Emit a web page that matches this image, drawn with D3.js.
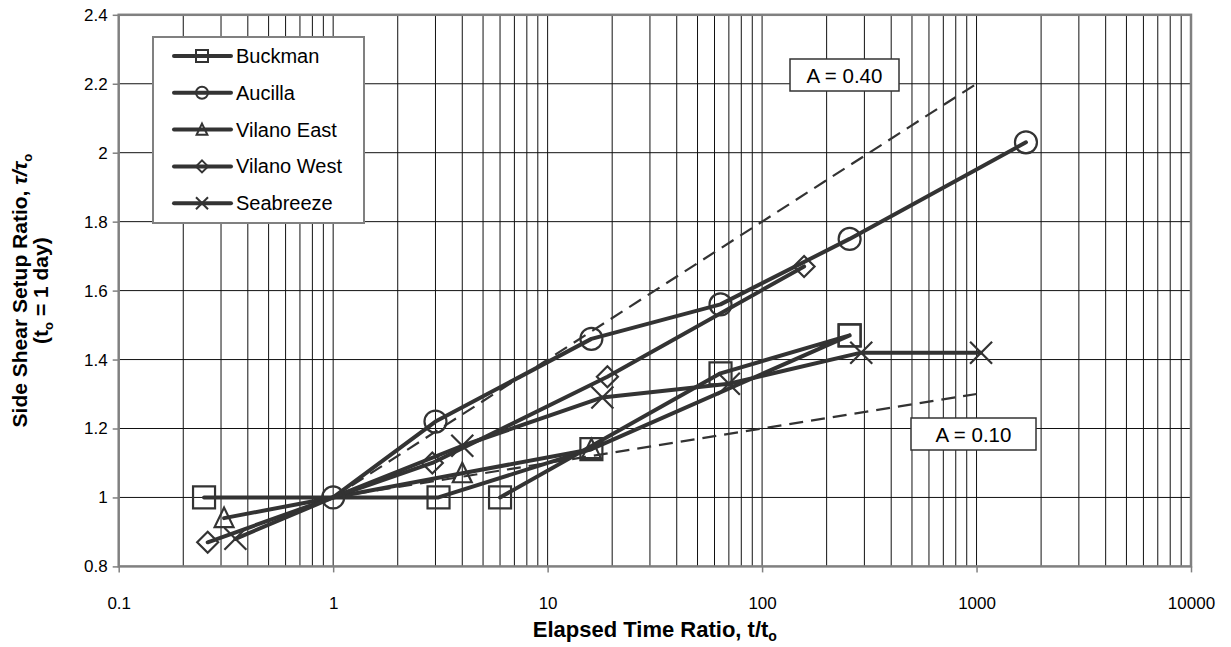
<!DOCTYPE html>
<html>
<head>
<meta charset="utf-8">
<script src="https://cdn.jsdelivr.net/npm/d3@7"></script>
<style>
  body { margin: 0; background: #fff; }
  svg { display: block; }
  text { font-family: "Liberation Sans", Arial, sans-serif; fill: #000; }
</style>
</head>
<body>
<svg id="chart" width="1231" height="647"></svg>
<script>
// null = gap in the line (Buckman has two runs)
const buckmanT = [0.25, 3.1, 16, 256, null, 6, 64, 256]
const buckmanR = [1.0, 1.0, 1.14, 1.47, null, 1.0, 1.36, 1.47]
const aucillaT = [1, 3, 16, 64, 256, 1700]
const aucillaR = [1.0, 1.22, 1.46, 1.56, 1.75, 2.03]
const vilanoEastT = [0.31, 1, 4, 16]
const vilanoEastR = [0.94, 1.0, 1.07, 1.14]
const vilanoWestT = [0.26, 1, 2.9, 19, 157]
const vilanoWestR = [0.87, 1.0, 1.10, 1.35, 1.67]
const seabreezeT = [0.35, 1, 4, 18, 70, 290, 1050]
const seabreezeR = [0.88, 1.0, 1.15, 1.29, 1.33, 1.42, 1.42]

// setup trend lines, tau/tau0 = 1 + A log(t/t0)
const trendT = [1, 1000]
const trend40 = [1.0, 2.2]
const trend10 = [1.0, 1.3]

const xTicks = [0.1, 1, 10, 100, 1000, 10000]
const yTicks = [0.8, 1, 1.2, 1.4, 1.6, 1.8, 2, 2.2, 2.4]

const seriesNames = ['Buckman', 'Aucilla', 'Vilano East', 'Vilano West', 'Seabreeze']
const seriesT = [buckmanT, aucillaT, vilanoEastT, vilanoWestT, seabreezeT]
const seriesR = [buckmanR, aucillaR, vilanoEastR, vilanoWestR, seabreezeR]
const markerKind = ['square', 'circle', 'triangle', 'diamond', 'cross']

const ink = '#333'

const svg = d3.select('#chart')

const plotL = 118.7, plotR = 1191, plotT = 14.8, plotB = 566.4

const x = d3.scaleLog().domain([0.1, 10000]).range([plotL, plotR])
const y = d3.scaleLinear().domain([0.8, 2.4]).range([plotB, plotT])

// marker shapes, s = half size
function markerPath(kind, s) {
    if (kind === 'square') return `M${-s},${-s}H${s}V${s}H${-s}Z`
    if (kind === 'circle') return `M${-s},0A${s},${s} 0 1,0 ${s},0A${s},${s} 0 1,0 ${-s},0Z`
    if (kind === 'triangle') return `M0,${-s}L${s * 0.9},${s * 0.85}H${-s * 0.9}Z`
    if (kind === 'diamond') return `M0,${-s}L${s},0L0,${s}L${-s},0Z`
    return `M${-s},${-s}L${s},${s}M${s},${-s}L${-s},${s}`
}

// grid
const grid = svg.append('g')
const minor = []
for (let p = -1; p < 4; p++) {
    for (let k = 1; k < 10; k++) minor.push(k * Math.pow(10, p))
}
grid.selectAll('.vg')
    .data(minor.filter(v => v > 0.1))
    .enter()
    .append('line')
    .attr('x1', d => x(d)).attr('x2', d => x(d))
    .attr('y1', plotT).attr('y2', plotB)
    .attr('stroke', '#111').attr('stroke-width', 1)

grid.selectAll('.hg')
    .data(yTicks.slice(1, -1))
    .enter()
    .append('line')
    .attr('x1', plotL).attr('x2', plotR)
    .attr('y1', d => y(d)).attr('y2', d => y(d))
    .attr('stroke', '#111').attr('stroke-width', 1)

// axes
svg.append('g')
    .attr('transform', `translate(0,${plotB})`)
    .call(d3.axisBottom(x).tickValues(xTicks).tickFormat(d => String(d)).tickSize(6).tickPadding(25))
svg.append('g')
    .attr('transform', `translate(${plotL},0)`)
    .call(d3.axisLeft(y).tickValues(yTicks).tickFormat(d => String(d)).tickSize(6).tickPadding(5))

svg.selectAll('.domain').remove()
svg.selectAll('.tick line').attr('stroke', '#808080').attr('stroke-width', 1.5)
svg.selectAll('.tick text')
    .style('font-family', '"Liberation Sans", Arial, sans-serif')
    .style('font-size', '17px').attr('fill', '#000')

// plot frame
svg.append('rect')
    .attr('x', plotL).attr('y', plotT)
    .attr('width', plotR - plotL).attr('height', plotB - plotT)
    .attr('fill', 'none').attr('stroke', '#808080').attr('stroke-width', 2.5)

// trend lines
const line = d3.line()
    .defined(d => d[0] !== null)
    .x(d => x(d[0]))
    .y(d => y(d[1]))

;[trend40, trend10].forEach(tr => {
    svg.append('path')
        .attr('d', line(trendT.map((t, i) => [t, tr[i]])))
        .attr('fill', 'none')
        .attr('stroke', ink)
        .attr('stroke-width', 2.2)
        .attr('stroke-dasharray', '14,8')
})

// series lines
seriesT.forEach((ts, si) => {
    const pts = ts.map((t, i) => [t, seriesR[si][i]])
    svg.append('path')
        .attr('d', line(pts))
        .attr('fill', 'none')
        .attr('stroke', ink)
        .attr('stroke-width', 4)
        .attr('stroke-linejoin', 'round')
        .attr('stroke-linecap', 'round')
})

// series markers (no marker at the t = 1 anchor except Aucilla's circle)
seriesT.forEach((ts, si) => {
    const kind = markerKind[si]
    const pts = ts.map((t, i) => [t, seriesR[si][i]])
        .filter(d => d[0] !== null && (d[0] !== 1 || kind === 'circle'))
    const size = { square: 11, circle: 11, triangle: 10.5, diamond: 10.5, cross: 11 }[kind]
    svg.selectAll('.m' + si)
        .data(pts)
        .enter()
        .append('path')
        .attr('transform', d => `translate(${x(d[0])},${y(d[1])})`)
        .attr('d', markerPath(kind, size))
        .attr('fill', 'none')
        .attr('stroke', ink)
        .attr('stroke-width', 2.2)
})

// A labels
const boxes = [
    { text: 'A = 0.40', x0: 790, y0: 59, w: 109, h: 32 },
    { text: 'A = 0.10', x0: 911, y0: 418, w: 125, h: 32 }
]
boxes.forEach(b => {
    svg.append('rect')
        .attr('x', b.x0).attr('y', b.y0).attr('width', b.w).attr('height', b.h)
        .attr('fill', '#fff').attr('stroke', ink).attr('stroke-width', 1.5)
    svg.append('text')
        .attr('x', b.x0 + b.w / 2).attr('y', b.y0 + b.h / 2 + 7.5)
        .attr('text-anchor', 'middle')
        .style('font-size', '20.5px')
        .text(b.text)
})

// legend
const legend = svg.append('g')
legend.append('rect')
    .attr('x', 153).attr('y', 37).attr('width', 211).attr('height', 186)
    .attr('fill', '#fff').attr('stroke', '#808080').attr('stroke-width', 2)

const rows = legend.selectAll('.row')
    .data(seriesNames)
    .enter()
    .append('g')
    .attr('transform', (d, i) => `translate(0,${56 + i * 36.8})`)

rows.append('line')
    .attr('x1', 174).attr('x2', 231)
    .attr('stroke', ink).attr('stroke-width', 4).attr('stroke-linecap', 'round')
rows.append('path')
    .attr('transform', 'translate(202,0)')
    .attr('d', (d, i) => markerPath(markerKind[i], 6))
    .attr('fill', 'none')
    .attr('stroke', ink)
    .attr('stroke-width', 2)
rows.append('text')
    .attr('x', 236).attr('y', 7)
    .style('font-size', '20px')
    .text(d => d)

// axis titles
const xt = svg.append('text')
    .attr('x', (plotL + plotR) / 2).attr('y', 637)
    .attr('text-anchor', 'middle')
    .style('font-size', '22px').style('font-weight', 'bold')
xt.append('tspan').text('Elapsed Time Ratio, t/t')
xt.append('tspan').attr('dy', 4).style('font-size', '14px').text('o')

const yt = svg.append('g').attr('transform', `translate(0,${(plotT + plotB) / 2}) rotate(-90)`)
const y1 = yt.append('text')
    .attr('x', 0).attr('y', 27)
    .attr('text-anchor', 'middle')
    .style('font-size', '21px').style('font-weight', 'bold')
y1.append('tspan').text('Side Shear Setup Ratio, ')
y1.append('tspan').style('font-style', 'italic').text('τ/τ')
y1.append('tspan').attr('dy', 5).style('font-size', '13px').text('o')

const y2 = yt.append('text')
    .attr('x', 0).attr('y', 48)
    .attr('text-anchor', 'middle')
    .style('font-size', '21px').style('font-weight', 'bold')
y2.append('tspan').text('(t')
y2.append('tspan').attr('dy', 5).style('font-size', '13px').text('o')
y2.append('tspan').attr('dy', -5).text(' = 1 day)')
</script>
</body>
</html>
